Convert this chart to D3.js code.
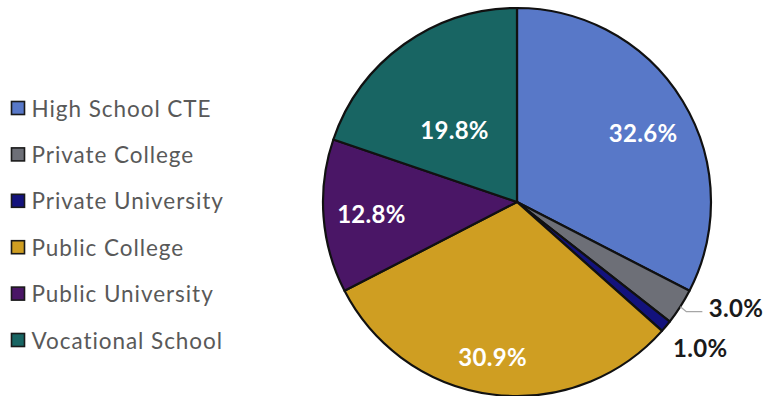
<!DOCTYPE html>
<html><head><meta charset="utf-8">
<script src="https://cdn.jsdelivr.net/npm/d3@7"></script>
<style>html,body{margin:0;padding:0;background:#fff;}svg{display:block;}</style>
</head><body>
<svg id="c" width="769" height="396"></svg>
<script>
const categories = ["High School CTE","Private College","Private University","Public College","Public University","Vocational School"];
const values = [32.6, 3.0, 1.0, 30.9, 12.8, 19.8];
const colors = ["#5878C8","#6D6F77","#13127C","#CF9E22","#4A1666","#186563"];

const W = 769, H = 396;
const svg = d3.select("#c");
const cx = 517, cy = 202, R = 194;
const FONT = "Lato, 'Open Sans', sans-serif";

// label layout: [radius, angle shift (deg) from slice mid], inside flag
const labelLayout = [[144, 2.5, true],[243,-7,false],[234,-1.4,false],[156,1.8,true],[146,-0.3,true],[96,-5,true]];

const pie = d3.pie().sort(null).value(d=>d).startAngle(0).endAngle(2*Math.PI);
const arcs = pie(values);
const arc = d3.arc().innerRadius(0).outerRadius(R);
const g = svg.append("g").attr("transform",`translate(${cx},${cy})`);
g.selectAll("path.slice").data(arcs).join("path")
  .attr("class","slice")
  .attr("d",arc)
  .attr("fill",(d,i)=>colors[i])
  .attr("stroke","#111")
  .attr("stroke-width",2.2)
  .attr("stroke-linejoin","round");

function polar(r,a){return [r*Math.sin(a), -r*Math.cos(a)];}

arcs.forEach((d,i)=>{
  const mid = (d.startAngle+d.endAngle)/2;
  const [r,shift,inside] = labelLayout[i];
  const a = mid + shift*Math.PI/180;
  const [x,y] = polar(r,a);
  if(i===1){
    const p0 = polar(R,mid);
    g.append("polyline")
      .attr("points",[[p0[0],p0[1]],[p0[0]+6,p0[1]+5],[p0[0]+22,p0[1]+5]].map(p=>p.join(",")).join(" "))
      .attr("fill","none").attr("stroke","#A6A6A6").attr("stroke-width",1.3);
  }
  g.append("text")
    .attr("x",x).attr("y",y)
    .attr("text-anchor","middle")
    .attr("dominant-baseline","central")
    .attr("font-family",FONT)
    .attr("font-weight","bold")
    .attr("font-size",24)
    .attr("letter-spacing",0.3)
    .attr("fill",inside?"#FFFFFF":"#1A1A1A")
    .text(values[i].toFixed(1)+"%");
});

// legend
const ly = d3.scalePoint().domain(categories).range([108,340]);
const lg = svg.append("g");
categories.forEach((c,i)=>{
  const y = ly(c);
  lg.append("rect").attr("x",11.5).attr("y",y-6.5).attr("width",13).attr("height",13)
    .attr("fill",colors[i]).attr("stroke","#1a1a1a").attr("stroke-width",1.6);
  lg.append("text").attr("x",31.5).attr("y",y).attr("dominant-baseline","central")
    .attr("font-family",FONT).attr("font-size",22.5).attr("letter-spacing",0.95)
    .attr("fill","#595959").text(c);
});
</script>
</body></html>
